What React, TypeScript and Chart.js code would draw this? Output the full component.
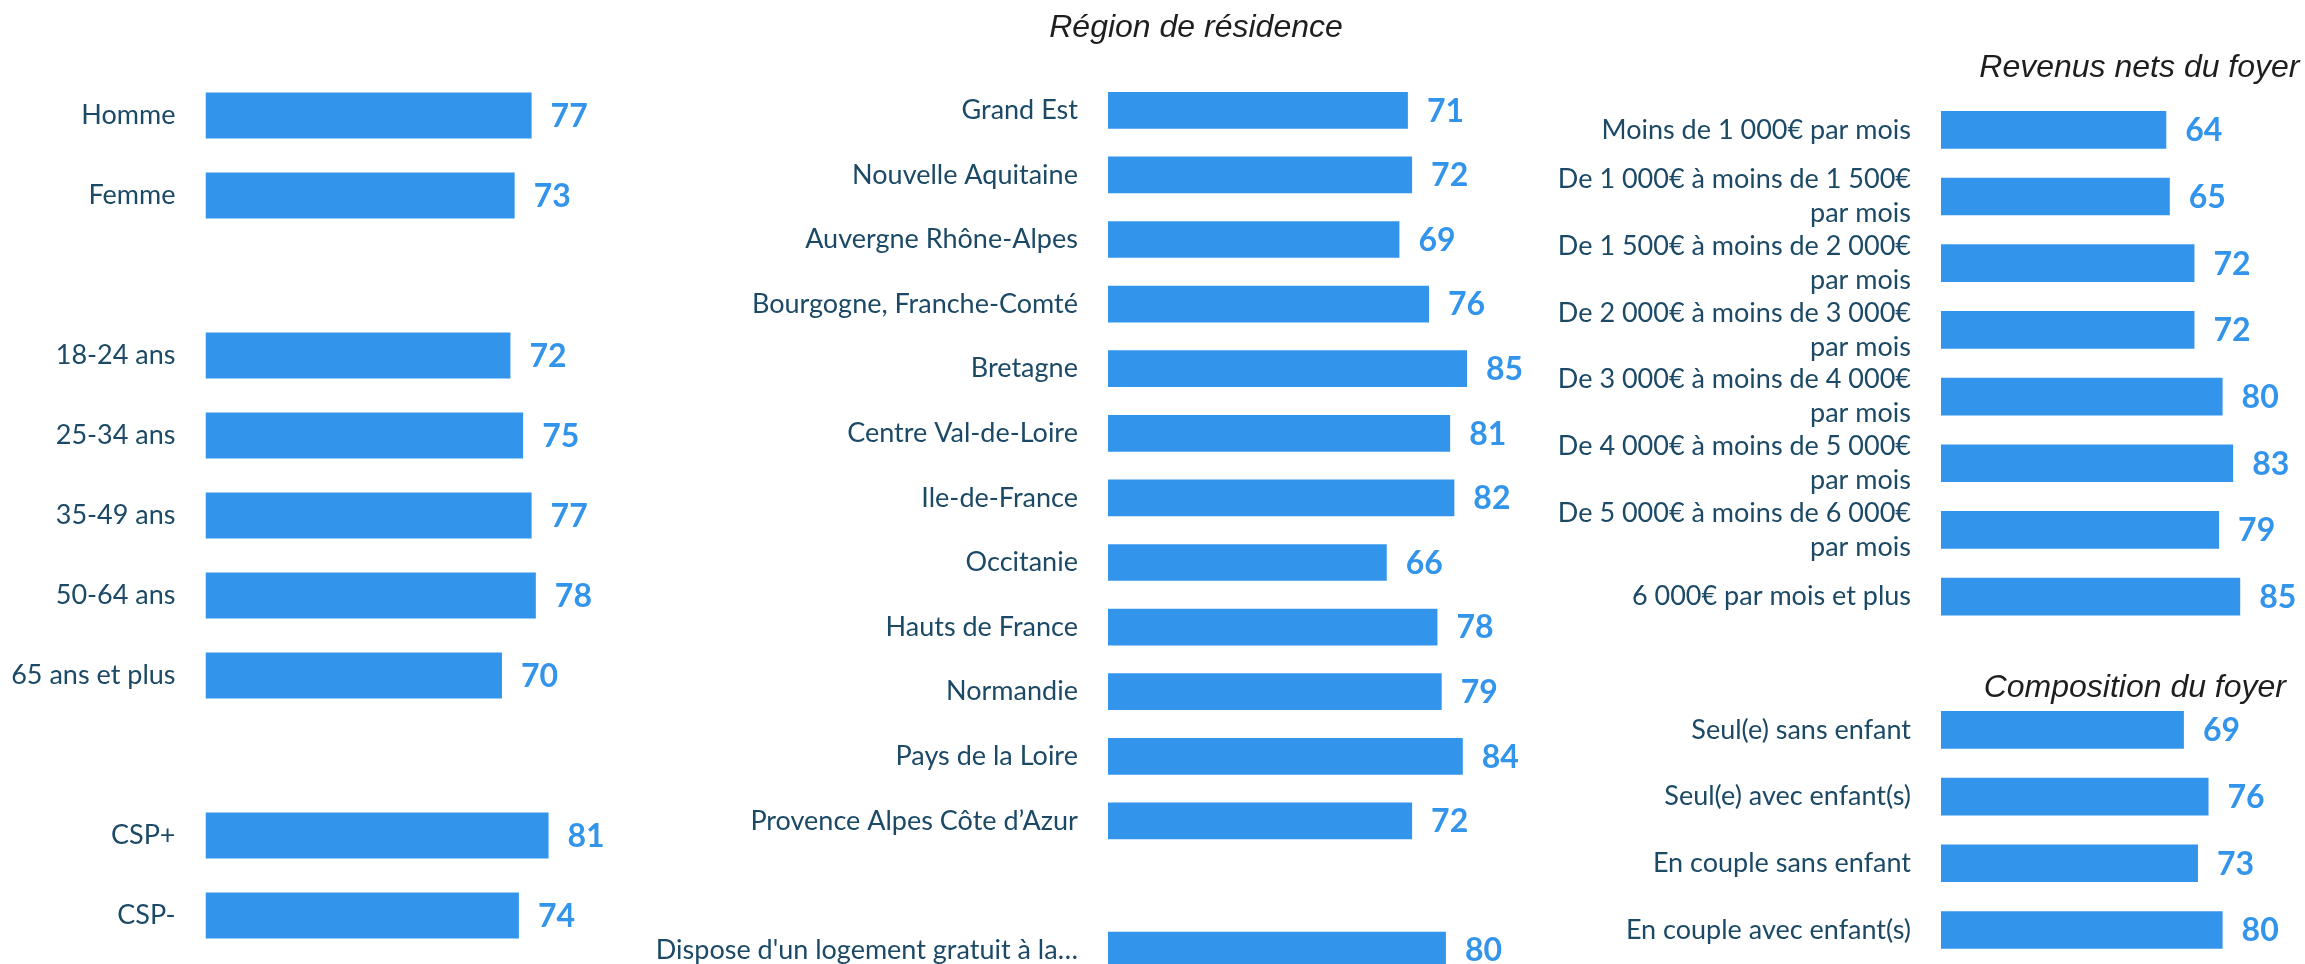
import React, { useEffect, useRef } from "react";
import { Chart, registerables } from "chart.js";
Chart.register(...registerables);

const BLUE = "#3394EB";
const LABEL_COLOR = "#1B4966";
const TITLE_COLOR = "#1E1E1E";
const LABEL_FONT = "Lato";
const TITLE_FONT = "Liberation Sans";

// Left panel: sexe, âge, CSP
const leftLabels = ["Homme", "Femme", "", "18-24 ans", "25-34 ans", "35-49 ans", "50-64 ans", "65 ans et plus", "", "CSP+", "CSP-"];
const leftValues = [77, 73, null, 72, 75, 77, 78, 70, null, 81, 74];

// Middle panel: région de résidence
const regionTitle = "Région de résidence";
const regionLabels = [
  "Grand Est",
  "Nouvelle Aquitaine",
  "Auvergne Rhône-Alpes",
  "Bourgogne, Franche-Comté",
  "Bretagne",
  "Centre Val-de-Loire",
  "Ile-de-France",
  "Occitanie",
  "Hauts de France",
  "Normandie",
  "Pays de la Loire",
  "Provence Alpes Côte d’Azur",
  "",
  "Dispose d'un logement gratuit à la…",
];
const regionValues = [71, 72, 69, 76, 85, 81, 82, 66, 78, 79, 84, 72, null, 80];

// Right panel: revenus + composition du foyer
const incomeTitle = "Revenus nets du foyer";
const compoTitle = "Composition du foyer";
const rightLabels = [
  "Moins de 1 000€ par mois",
  ["De 1 000€ à moins de 1 500€", "par mois"],
  ["De 1 500€ à moins de 2 000€", "par mois"],
  ["De 2 000€ à moins de 3 000€", "par mois"],
  ["De 3 000€ à moins de 4 000€", "par mois"],
  ["De 4 000€ à moins de 5 000€", "par mois"],
  ["De 5 000€ à moins de 6 000€", "par mois"],
  "6 000€ par mois et plus",
  "",
  "Seul(e) sans enfant",
  "Seul(e) avec enfant(s)",
  "En couple sans enfant",
  "En couple avec enfant(s)",
];
const rightValues = [64, 65, 72, 72, 80, 83, 79, 85, null, 69, 76, 73, 80];

const valueLabels = {
  id: "valueLabels",
  afterDatasetsDraw(chart: any) {
    const ctx = chart.ctx;
    const meta = chart.getDatasetMeta(0);
    const data = chart.data.datasets[0].data;
    ctx.save();
    ctx.font = `bold 32px ${LABEL_FONT}`;
    ctx.fillStyle = BLUE;
    ctx.textAlign = "left";
    ctx.textBaseline = "middle";
    meta.data.forEach((el: any, i: number) => {
      const v = data[i];
      if (v == null) return;
      ctx.fillText(String(v), el.x + 19, el.y + 1);
    });
    ctx.restore();
  },
};

const panelTitles = {
  id: "panelTitles",
  afterDraw(chart: any, _args: any, opts: any) {
    const items = (opts && opts.items) || [];
    const ctx = chart.ctx;
    ctx.save();
    ctx.font = `italic 32px ${TITLE_FONT}`;
    ctx.fillStyle = TITLE_COLOR;
    ctx.textBaseline = "alphabetic";
    items.forEach((it: any) => {
      ctx.textAlign = it.align;
      ctx.fillText(it.text, it.x, it.y);
    });
    ctx.restore();
  },
};

type PanelProps = {
  labels: any[];
  values: (number | null)[];
  left: number;
  width: number;
  height: number;
  axisWidth: number;
  padding: { top: number; bottom: number; right: number };
  barPct: number;
  titles: any[];
};

function Panel(p: PanelProps) {
  const ref = useRef<HTMLCanvasElement | null>(null);
  useEffect(() => {
    if (!ref.current) return;
    const chart = new Chart(ref.current, {
      type: "bar",
      data: {
        labels: p.labels,
        datasets: [
          {
            data: p.values as any,
            backgroundColor: BLUE,
            borderWidth: 0,
            barPercentage: p.barPct,
            categoryPercentage: 1,
          },
        ],
      },
      options: {
        indexAxis: "y",
        animation: false,
        responsive: false,
        devicePixelRatio: 1,
        layout: { padding: { left: 0, top: p.padding.top, bottom: p.padding.bottom, right: p.padding.right } },
        plugins: {
          legend: { display: false },
          tooltip: { enabled: false },
          panelTitles: { items: p.titles },
        } as any,
        scales: {
          x: { display: false, min: 0, max: 100 },
          y: {
            grid: { display: false, drawTicks: false },
            border: { display: false },
            ticks: {
              autoSkip: false,
              padding: 30,
              color: LABEL_COLOR,
              font: { family: LABEL_FONT, size: 27, lineHeight: 1.26 },
            },
            afterFit(scale: any) {
              scale.width = p.axisWidth;
              scale.paddingTop = 0;
              scale.paddingBottom = 0;
            },
          },
        },
      },
      plugins: [valueLabels, panelTitles],
    });
    return () => chart.destroy();
  }, []);
  return (
    <canvas
      ref={ref}
      width={p.width}
      height={p.height}
      style={{ position: "absolute", left: p.left, top: 0, width: p.width, height: p.height }}
    />
  );
}

export default function App() {
  return (
    <div
      style={{
        position: "fixed",
        left: 0,
        top: 0,
        width: 2305,
        height: 964,
        overflow: "hidden",
        background: "#ffffff",
      }}
    >
      <Panel
        labels={leftLabels}
        values={leftValues}
        left={0}
        width={700}
        height={964}
        axisWidth={205.5}
        padding={{ top: 75.5, bottom: 8.5, right: 71 }}
        barPct={0.575}
        titles={[]}
      />
      <Panel
        labels={regionLabels}
        values={regionValues}
        left={650}
        width={900}
        height={1000}
        axisWidth={457.9}
        padding={{ top: 78, bottom: 17.6, right: 19.6 }}
        barPct={0.568}
        titles={[{ text: regionTitle, x: 546, y: 37, align: "center" }]}
      />
      <Panel
        labels={rightLabels}
        values={rightValues}
        left={1560}
        width={745}
        height={964}
        axisWidth={381}
        padding={{ top: 96.5, bottom: 0.7, right: 12 }}
        barPct={0.565}
        titles={[
          { text: incomeTitle, x: 739.5, y: 77, align: "right" },
          { text: compoTitle, x: 726, y: 697, align: "right" },
        ]}
      />
    </div>
  );
}
